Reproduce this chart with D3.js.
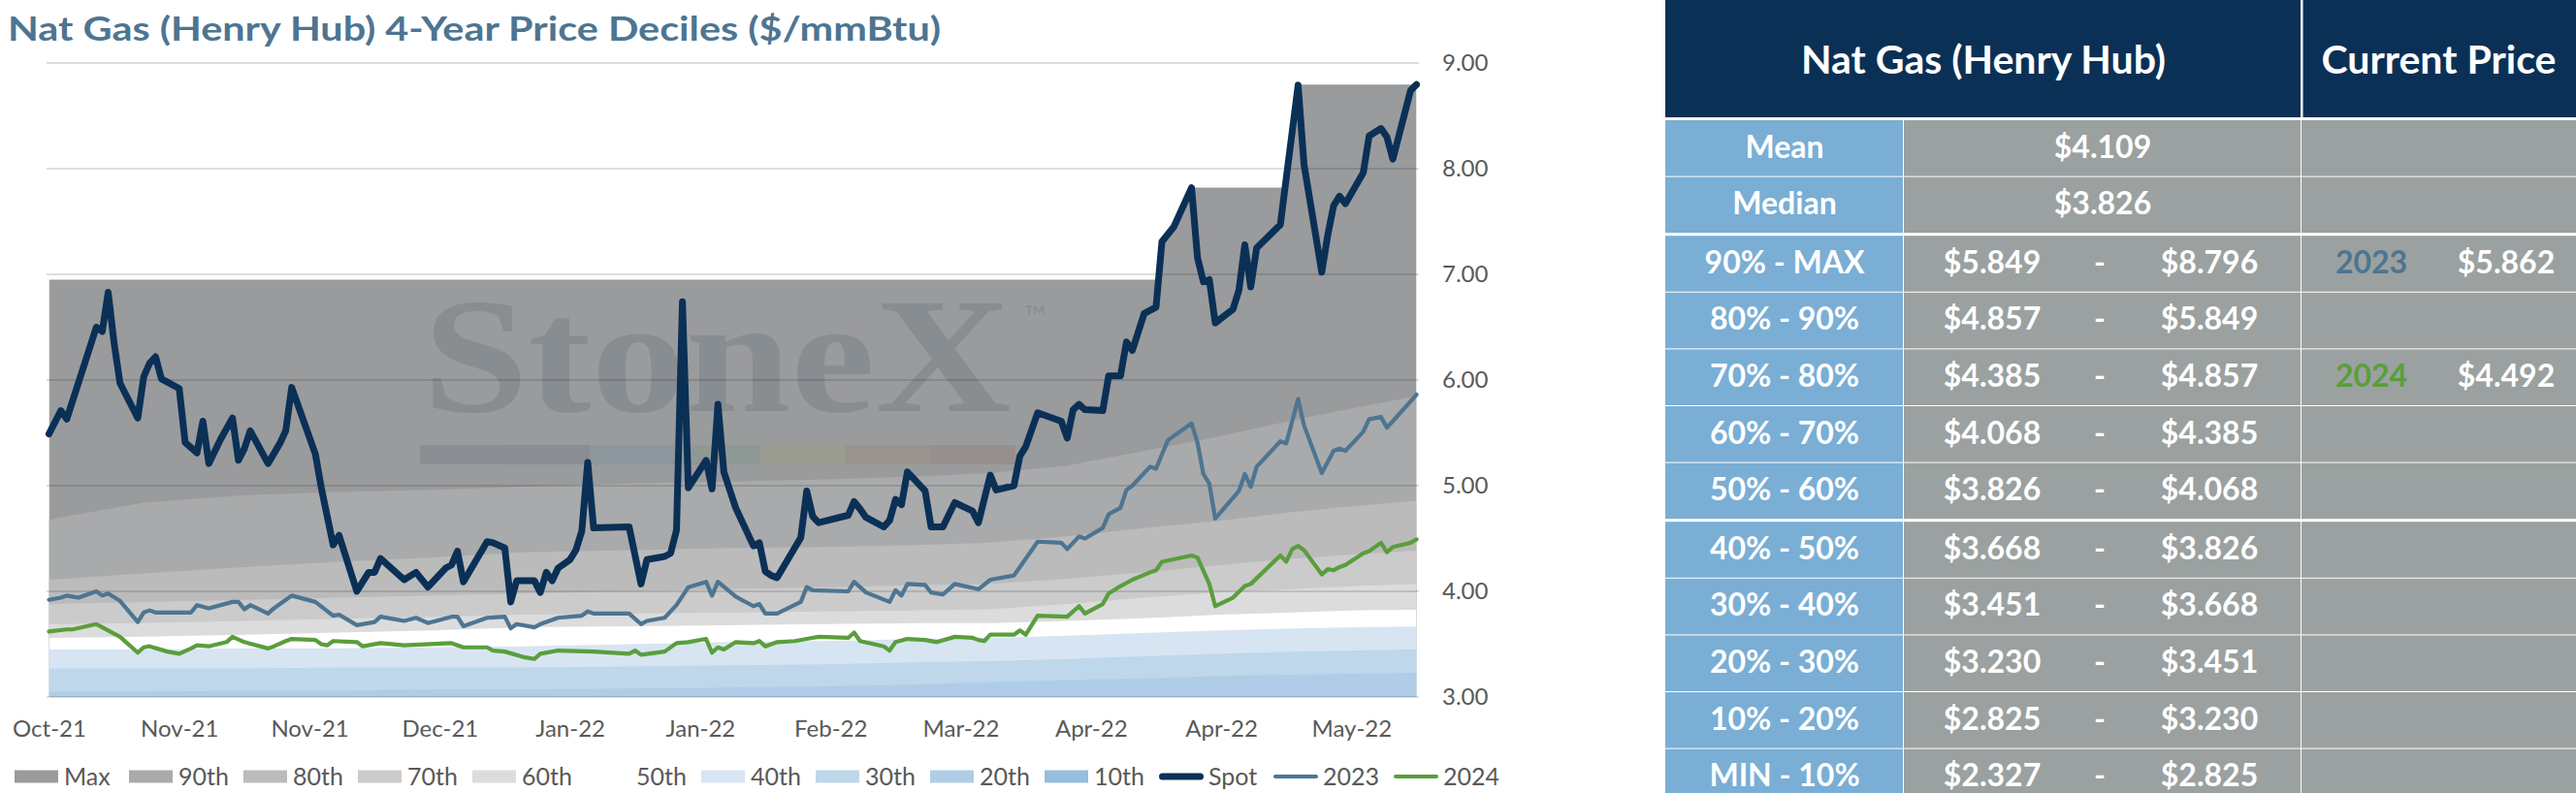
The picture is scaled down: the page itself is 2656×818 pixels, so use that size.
<!DOCTYPE html>
<html>
<head>
<meta charset="utf-8">
<script src="https://cdn.jsdelivr.net/npm/d3@7"></script>
<style>
  body { margin: 0; background: #fff; }
  text { font-family: Lato, "Open Sans", sans-serif; }
</style>
</head>
<body>
<svg id="chart" width="2656" height="818"></svg>
<script>
// ---- data (x = calendar day index, 22 days per label) ----
const xTickLabels = ["Oct-21", "Nov-21", "Nov-21", "Dec-21", "Jan-22", "Jan-22", "Feb-22", "Mar-22", "Apr-22", "Apr-22", "May-22"];
const tickEvery = 22;
const lastDay = 231;
const yTicks = [3, 4, 5, 6, 7, 8, 9];

const spot = [[0,5.49],[2,5.71],[3,5.63],[8,6.50],[9,6.46],[10,6.83],[11,6.35],[12,5.97],[15,5.64],[16,6.03],[17,6.16],[18,6.22],[19,6.01],[22,5.92],[23,5.41],[25,5.31],[26,5.61],[27,5.21],[29,5.44],[31,5.64],[32,5.24],[33,5.35],[34,5.52],[37,5.21],[39,5.40],[40,5.52],[41,5.93],[45,5.30],[46,4.98],[48,4.44],[49,4.53],[52,4.00],[54,4.18],[55,4.18],[56,4.31],[60,4.11],[62,4.18],[64,4.04],[67,4.22],[68,4.25],[69,4.38],[70,4.09],[74,4.47],[75,4.46],[77,4.41],[78,3.90],[79,4.10],[82,4.10],[83,3.99],[84,4.18],[85,4.10],[86,4.22],[88,4.30],[89,4.39],[90,4.57],[91,5.22],[92,4.60],[98,4.61],[100,4.07],[101,4.30],[104,4.33],[105,4.36],[106,4.58],[107,6.74],[108,4.98],[111,5.24],[112,4.97],[113,5.77],[114,5.13],[116,4.79],[119,4.43],[120,4.46],[121,4.19],[122,4.15],[123,4.13],[127,4.51],[128,4.95],[129,4.71],[130,4.65],[135,4.72],[136,4.85],[137,4.78],[138,4.70],[141,4.61],[142,4.67],[143,4.87],[144,4.82],[145,5.13],[148,4.95],[149,4.61],[151,4.61],[153,4.84],[156,4.76],[157,4.65],[159,5.10],[160,4.96],[163,5.00],[164,5.28],[165,5.37],[167,5.69],[171,5.61],[172,5.45],[173,5.72],[174,5.77],[175,5.72],[178,5.71],[179,6.04],[181,6.04],[182,6.36],[183,6.28],[185,6.63],[187,6.69],[188,7.31],[190,7.45],[193,7.82],[194,7.16],[195,6.93],[196,6.95],[197,6.54],[200,6.67],[201,6.85],[202,7.28],[203,6.88],[204,7.25],[208,7.47],[211,8.79],[212,8.04],[215,7.02],[216,7.37],[217,7.65],[218,7.74],[219,7.67],[222,7.96],[223,8.31],[225,8.38],[226,8.30],[227,8.09],[230,8.74],[231,8.796]];

const y2023 = [[0,3.92],[2,3.94],[3,3.96],[5,3.94],[8,4.00],[9,3.96],[10,3.98],[12,3.91],[15,3.71],[16,3.80],[17,3.82],[18,3.80],[24,3.80],[25,3.87],[27,3.84],[31,3.90],[32,3.90],[33,3.83],[34,3.87],[37,3.79],[38,3.84],[40,3.92],[41,3.96],[45,3.90],[48,3.77],[49,3.78],[52,3.68],[55,3.71],[56,3.76],[60,3.72],[62,3.75],[64,3.70],[68,3.76],[69,3.76],[70,3.67],[74,3.75],[77,3.76],[78,3.65],[79,3.69],[82,3.66],[83,3.69],[86,3.75],[90,3.77],[91,3.81],[92,3.79],[98,3.79],[100,3.69],[101,3.72],[104,3.75],[106,3.87],[108,4.04],[111,4.09],[112,3.96],[113,4.09],[116,3.95],[119,3.86],[120,3.88],[121,3.79],[123,3.79],[127,3.90],[128,4.04],[129,4.01],[135,4.00],[136,4.09],[138,3.99],[142,3.90],[143,4.01],[144,3.96],[145,4.07],[148,4.06],[149,3.99],[151,3.97],[153,4.07],[157,4.02],[159,4.11],[163,4.15],[164,4.23],[167,4.47],[171,4.46],[172,4.40],[174,4.52],[175,4.50],[178,4.60],[179,4.73],[181,4.79],[182,4.96],[183,5.00],[186,5.18],[187,5.16],[189,5.43],[193,5.59],[194,5.41],[195,5.11],[196,5.02],[197,4.69],[201,4.95],[202,5.11],[203,4.99],[204,5.18],[208,5.42],[209,5.40],[211,5.82],[212,5.57],[215,5.12],[217,5.33],[218,5.35],[219,5.33],[222,5.51],[223,5.63],[225,5.65],[226,5.55],[227,5.61],[231,5.862]];

const y2024 = [[0,3.62],[3,3.64],[4,3.64],[8,3.69],[9,3.66],[12,3.57],[15,3.42],[16,3.47],[17,3.48],[20,3.43],[22,3.41],[24,3.46],[25,3.49],[27,3.48],[30,3.52],[31,3.57],[33,3.52],[37,3.46],[38,3.48],[40,3.53],[41,3.55],[45,3.54],[46,3.50],[47,3.49],[48,3.53],[52,3.52],[53,3.48],[56,3.51],[60,3.49],[68,3.51],[70,3.47],[74,3.47],[75,3.44],[77,3.43],[80,3.38],[82,3.36],[83,3.41],[86,3.44],[92,3.43],[98,3.41],[99,3.44],[100,3.40],[104,3.43],[106,3.51],[108,3.52],[111,3.55],[112,3.42],[113,3.47],[114,3.45],[116,3.52],[119,3.51],[120,3.53],[121,3.48],[123,3.52],[126,3.53],[128,3.55],[130,3.57],[135,3.56],[136,3.61],[137,3.53],[141,3.48],[142,3.44],[143,3.52],[145,3.55],[148,3.54],[150,3.52],[153,3.57],[156,3.56],[157,3.54],[158,3.53],[159,3.59],[163,3.59],[164,3.63],[165,3.59],[167,3.77],[172,3.76],[174,3.86],[175,3.79],[178,3.88],[179,3.98],[181,4.05],[183,4.11],[186,4.18],[187,4.20],[188,4.28],[193,4.34],[194,4.32],[196,4.07],[197,3.86],[200,3.94],[202,4.05],[203,4.07],[208,4.34],[209,4.28],[210,4.40],[211,4.43],[212,4.39],[215,4.16],[216,4.21],[217,4.20],[218,4.23],[219,4.25],[222,4.36],[223,4.38],[225,4.46],[226,4.37],[227,4.42],[230,4.46],[231,4.492]];

// rolling 4-year max (steps up when spot makes new highs)
const maxLine = [[0,6.95],[187,6.95],[188,7.31],[190,7.45],[193,7.82],[209,7.82],[211,8.796],[231,8.796]];

// decile boundaries sampled at these days
const bandDays = [0, 16, 33, 49, 65, 80, 98, 115, 131, 148, 159, 172, 187, 198, 210, 221, 231];
const p90 = [4.68, 4.84, 4.91, 4.94, 4.96, 4.99, 5.02, 5.04, 5.06, 5.09, 5.12, 5.19, 5.35, 5.47, 5.62, 5.74, 5.849];
const p80 = [4.11, 4.17, 4.23, 4.28, 4.32, 4.37, 4.39, 4.41, 4.42, 4.44, 4.46, 4.52, 4.61, 4.67, 4.75, 4.81, 4.857];
const p70 = [3.88, 3.90, 3.92, 3.94, 3.96, 3.98, 4.00, 4.02, 4.04, 4.06, 4.07, 4.12, 4.19, 4.25, 4.31, 4.35, 4.385];
const p60 = [3.69, 3.70, 3.72, 3.74, 3.76, 3.78, 3.79, 3.80, 3.81, 3.82, 3.83, 3.88, 3.95, 3.99, 4.02, 4.05, 4.068];
const p50 = [3.56, 3.57, 3.59, 3.61, 3.63, 3.66, 3.67, 3.68, 3.69, 3.70, 3.70, 3.72, 3.75, 3.78, 3.80, 3.82, 3.826];
const p40 = [3.45, 3.45, 3.46, 3.46, 3.47, 3.48, 3.50, 3.52, 3.53, 3.55, 3.56, 3.58, 3.61, 3.63, 3.65, 3.66, 3.668];
const p30 = [3.27, 3.27, 3.27, 3.28, 3.28, 3.28, 3.29, 3.30, 3.31, 3.33, 3.34, 3.36, 3.39, 3.41, 3.43, 3.44, 3.451];
const p20 = [3.05, 3.05, 3.06, 3.06, 3.07, 3.07, 3.08, 3.09, 3.10, 3.12, 3.14, 3.16, 3.18, 3.20, 3.21, 3.22, 3.230];
const p10 = [2.62, 2.63, 2.64, 2.65, 2.66, 2.67, 2.68, 2.70, 2.72, 2.74, 2.76, 2.78, 2.80, 2.81, 2.82, 2.82, 2.825];

// table
const tableHeader = ["Nat Gas (Henry Hub)", "Current Price"];
const tableLabels = ["Mean", "Median", "90% - MAX", "80% - 90%", "70% - 80%", "60% - 70%", "50% - 60%", "40% - 50%", "30% - 40%", "20% - 30%", "10% - 20%", "MIN - 10%"];
const tableLow  = [4.109, 3.826, 5.849, 4.857, 4.385, 4.068, 3.826, 3.668, 3.451, 3.230, 2.825, 2.327];
const tableHigh = [null, null, 8.796, 5.849, 4.857, 4.385, 4.068, 3.826, 3.668, 3.451, 3.230, 2.825];
const currentYears  = ["2023", "2024"];
const currentValues = [5.862, 4.492];
const currentRows   = [2, 4];

// ---- styles ----
const navy = "#0b3056", steel = "#4d7592", green = "#5a9e3c";
const bandColors = ["#9a9b9d", "#a9aaab", "#bbbbbc", "#cbcbcb", "#dcdcdc", "#ffffff", "#d7e5f2", "#bed7ea", "#afcde6", "#97bde0"];

const svg = d3.select("#chart");

const x = d3.scaleLinear().domain([0, lastDay]).range([50.5, 1460.5]);
const y = d3.scaleLinear().domain([3, 9]).range([719, 65]);

// title
svg.append("text")
  .attr("x", 8).attr("y", 42)
  .attr("fill", steel)
  .attr("font-size", 35).attr("font-weight", 700)
  .attr("textLength", 962).attr("lengthAdjust", "spacingAndGlyphs")
  .text("Nat Gas (Henry Hub) 4-Year Price Deciles ($/mmBtu)");

svg.append("clipPath").attr("id", "plot")
  .append("rect")
  .attr("x", x(0)).attr("y", y(9))
  .attr("width", x(lastDay) - x(0)).attr("height", y(3) - y(9));

const plot = svg.append("g").attr("clip-path", "url(#plot)");

const area = d3.area()
  .x(d => x(d[0]))
  .y0(y(3))
  .y1(d => y(d[1]));

// layered areas: each boundary filled down to the axis, top to bottom
const bands = [maxLine, p90, p80, p70, p60, p50, p40, p30, p20, p10]
  .map((b, i) => i === 0 ? b : bandDays.map((d, j) => [d, b[j]]));

plot.selectAll(".band")
  .data(bands)
  .join("path")
  .attr("class", "band")
  .attr("d", area)
  .attr("fill", (d, i) => bandColors[i]);

// watermark
const wm = svg.append("g");
wm.append("text")
  .attr("x", 436).attr("y", 424)
  .attr("font-size", 170).attr("font-weight", 700)
  .attr("textLength", 607).attr("lengthAdjust", "spacingAndGlyphs")
  .attr("fill", "#4a5a6a").attr("fill-opacity", 0.22)
  .style("font-family", "'Liberation Serif', 'DejaVu Serif', serif")
  .text("StoneX");
wm.append("text")
  .attr("x", 1056).attr("y", 337)
  .attr("font-size", 30)
  .attr("fill", "#4a5a6a").attr("fill-opacity", 0.22)
  .text("™");
const wmBar = ["#8b8e92", "#8a8d92", "#8c969c", "#8e9895", "#9c9d91", "#9b948e", "#978e90"];
wm.selectAll(".wmbar")
  .data(wmBar)
  .join("rect")
  .attr("x", (d, i) => 433 + i * 87.7)
  .attr("y", 459).attr("width", 87.7).attr("height", 20)
  .attr("fill", d => d);

// gridlines
svg.append("g")
  .selectAll("line")
  .data(yTicks)
  .join("line")
  .attr("x1", 48).attr("x2", 1463)
  .attr("y1", d => y(d)).attr("y2", d => y(d))
  .attr("stroke", "#000").attr("stroke-opacity", 0.13)
  .attr("stroke-width", 2);

// axes
const yAxis = svg.append("g")
  .attr("transform", "translate(1487,0)")
  .call(d3.axisRight(y).tickValues(yTicks).tickFormat(d3.format(".2f")).tickSize(0).tickPadding(0));
yAxis.select(".domain").remove();
yAxis.selectAll("text").attr("font-size", 24).attr("fill", "#595959").style("font-family", "Lato, sans-serif");

const xAxis = svg.append("g")
  .attr("transform", "translate(0,743)")
  .call(d3.axisBottom(x)
    .tickValues(d3.range(0, lastDay, tickEvery))
    .tickFormat((d, i) => xTickLabels[i])
    .tickSize(0).tickPadding(0));
xAxis.select(".domain").remove();
xAxis.selectAll("text").attr("font-size", 24).attr("fill", "#595959").style("font-family", "Lato, sans-serif");

// lines
const line = d3.line().x(d => x(d[0])).y(d => y(d[1]));
const series = [
  { data: y2024, color: green, width: 4.2 },
  { data: y2023, color: steel, width: 4.2 },
  { data: spot, color: navy, width: 7 }
];
svg.append("g")
  .selectAll("path")
  .data(series)
  .join("path")
  .attr("d", d => line(d.data))
  .attr("fill", "none")
  .attr("stroke", d => d.color)
  .attr("stroke-width", d => d.width)
  .attr("stroke-linejoin", "round")
  .attr("stroke-linecap", "round");

// legend
const legendItems = [
  { name: "Max", color: bandColors[0] }, { name: "90th", color: bandColors[1] },
  { name: "80th", color: bandColors[2] }, { name: "70th", color: bandColors[3] },
  { name: "60th", color: bandColors[4] }, { name: "50th", color: bandColors[5] },
  { name: "40th", color: bandColors[6] }, { name: "30th", color: bandColors[7] },
  { name: "20th", color: bandColors[8] }, { name: "10th", color: bandColors[9] },
  { name: "Spot", color: navy, line: 7 }, { name: "2023", color: steel, line: 4 },
  { name: "2024", color: green, line: 4 }
];
const lg = svg.append("g").attr("transform", "translate(15,801)")
  .selectAll("g")
  .data(legendItems)
  .join("g")
  .attr("transform", (d, i) => `translate(${i * 118 + (i === 12 ? 6 : 0)},0)`);
lg.filter(d => !d.line).append("rect")
  .attr("x", 0).attr("y", -6.5).attr("width", 45).attr("height", 13)
  .attr("fill", d => d.color);
lg.filter(d => d.line).append("line")
  .attr("x1", d => d.line / 2).attr("x2", d => 46 - d.line / 2)
  .attr("stroke", d => d.color).attr("stroke-width", d => d.line)
  .attr("stroke-linecap", "round");
lg.append("text")
  .attr("x", 51).attr("y", 0).attr("dy", "0.35em")
  .attr("font-size", 25).attr("fill", "#595959")
  .text(d => d.name);

// ---- table ----
const tLeft = 1717, tRight = 2656, colA = 1963, colB = 2373;
const rowH = 58.6, rowTop = 124;
const rowY = i => rowTop + i * rowH + (i >= 2 ? 2 : 0) + (i >= 7 ? 2 : 0);
const tbl = svg.append("g");

tbl.append("rect").attr("x", tLeft).attr("y", 0).attr("width", colB - tLeft - 1).attr("height", 121).attr("fill", navy);
tbl.append("rect").attr("x", colB + 1.5).attr("y", 0).attr("width", tRight - colB - 1.5).attr("height", 121).attr("fill", navy);
tbl.selectAll(".hdr")
  .data(tableHeader)
  .join("text")
  .attr("x", (d, i) => i === 0 ? (tLeft + colB) / 2 : (colB + tRight) / 2)
  .attr("y", 62).attr("dy", "0.35em")
  .attr("text-anchor", "middle")
  .attr("fill", "#fff").attr("font-size", 41).attr("font-weight", 700)
  .text(d => d);

const rows = tbl.selectAll(".row")
  .data(tableLabels)
  .join("g")
  .attr("transform", (d, i) => `translate(0,${rowY(i)})`);
rows.append("rect").attr("x", tLeft).attr("width", colA - tLeft - 1).attr("height", rowH - 1).attr("fill", "#7aaed5");
rows.append("rect").attr("x", colA).attr("width", colB - colA - 1).attr("height", rowH - 1).attr("fill", "#9ba1a0");
rows.append("rect").attr("x", colB).attr("width", tRight - colB).attr("height", rowH - 1).attr("fill", "#9ba1a0");

const cellText = (sel, xPos, txt, color) => sel.append("text")
  .attr("x", xPos).attr("y", rowH / 2 - 2).attr("dy", "0.35em")
  .attr("text-anchor", "middle")
  .attr("fill", color || "#fff").attr("font-size", 32).attr("font-weight", 700)
  .text(txt);

const money = v => "$" + d3.format(".3f")(v);
rows.each(function (label, i) {
  const r = d3.select(this);
  cellText(r, (tLeft + colA) / 2, label);
  if (tableHigh[i] == null) {
    cellText(r, (colA + colB) / 2, money(tableLow[i]));
  } else {
    cellText(r, 2054, money(tableLow[i]));
    cellText(r, 2165, "-");
    cellText(r, 2278, money(tableHigh[i]));
  }
  const c = currentRows.indexOf(i);
  if (c >= 0) {
    cellText(r, 2445, currentYears[c], c === 0 ? steel : green);
    cellText(r, 2584, money(currentValues[c]));
  }
});
</script>
</body>
</html>
